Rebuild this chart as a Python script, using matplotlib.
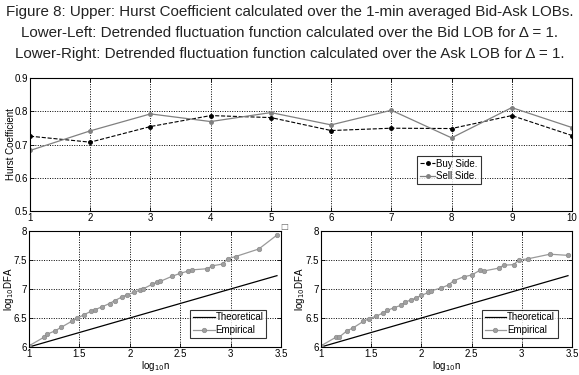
import matplotlib
matplotlib.use("Agg")
import matplotlib.pyplot as plt

plt.rcParams['font.family'] = ['Liberation Sans', 'DejaVu Sans']

# ---- data ----
lags = [1, 2, 3, 4, 5, 6, 7, 8, 9, 10]
buy_side = [0.725, 0.707, 0.754, 0.787, 0.781, 0.742, 0.749, 0.748, 0.787, 0.727]
sell_side = [0.682, 0.741, 0.792, 0.769, 0.796, 0.759, 0.803, 0.720, 0.811, 0.751]

theo_x = [1.0, 3.46]
theo_y = [6.0, 7.23]

bid_x = [1.00, 1.15, 1.18, 1.26, 1.32, 1.43, 1.48, 1.55, 1.62, 1.65, 1.72, 1.80,
         1.85, 1.92, 1.97, 2.04, 2.10, 2.13, 2.22, 2.27, 2.30, 2.42, 2.50, 2.58,
         2.62, 2.77, 2.82, 2.92, 2.97, 3.05, 3.28, 3.46]
bid_y = [6.02, 6.17, 6.22, 6.28, 6.34, 6.45, 6.50, 6.56, 6.62, 6.64, 6.69, 6.75,
         6.80, 6.86, 6.90, 6.94, 6.98, 7.00, 7.08, 7.12, 7.13, 7.22, 7.27, 7.31,
         7.33, 7.35, 7.40, 7.43, 7.52, 7.56, 7.69, 7.93]

ask_x = [1.00, 1.15, 1.18, 1.26, 1.32, 1.42, 1.48, 1.55, 1.62, 1.66, 1.73, 1.80,
         1.84, 1.90, 1.95, 2.00, 2.07, 2.10, 2.20, 2.27, 2.32, 2.42, 2.50, 2.58,
         2.62, 2.77, 2.82, 2.92, 2.97, 3.06, 3.28, 3.46]
ask_y = [6.02, 6.17, 6.17, 6.28, 6.33, 6.44, 6.49, 6.53, 6.59, 6.63, 6.68, 6.72,
         6.78, 6.81, 6.85, 6.89, 6.94, 6.97, 7.02, 7.07, 7.14, 7.21, 7.24, 7.32,
         7.31, 7.36, 7.41, 7.42, 7.50, 7.52, 7.60, 7.58]

title_lines = [
    "Figure 8: Upper: Hurst Coefficient calculated over the 1-min averaged Bid-Ask LOBs.",
    "Lower-Left: Detrended fluctuation function calculated over the Bid LOB for \u0394 = 1.",
    "Lower-Right: Detrended fluctuation function calculated over the Ask LOB for \u0394 = 1.",
]

W, H = 579, 375
fig = plt.figure(figsize=(W / 100, H / 100), dpi=100)


def px_axes(l, r, t, b):
    return fig.add_axes([l / W, 1 - b / H, (r - l) / W, (b - t) / H])


def style(ax):
    ax.grid(True, color='black', linestyle=(0, (1, 1.5)), linewidth=0.7)
    ax.tick_params(direction='in', labelsize=7, length=3, width=0.6, pad=1.5,
                   top=True, right=True)
    for s in ax.spines.values():
        s.set_linewidth(0.8)


# title
for i, line in enumerate(title_lines):
    fig.text(0.5, 1 - (12 + 21 * i) / H, line, ha='center', va='center',
             fontsize=10.9, color='#222222')

# upper
ax1 = px_axes(30, 572, 78, 211)
ax1.plot(lags, buy_side, color='black', linestyle='--', linewidth=0.8,
         marker='o', markersize=2.5, label='Buy Side.')
ax1.plot(lags, sell_side, color='#808080', linestyle='-', linewidth=0.9,
         marker='o', markersize=2.5, label='Sell Side.')
ax1.set_xlim(1, 10)
ax1.set_ylim(0.5, 0.9)
ax1.set_xticks(lags)
ax1.set_yticks([0.5, 0.6, 0.7, 0.8, 0.9])
ax1.set_ylabel('Hurst Coefficient', fontsize=7)
ax1.yaxis.set_label_coords((16 - 30) / 542, 0.5)
style(ax1)
leg = ax1.legend(loc='lower left', bbox_to_anchor=(0.714, 0.2), fontsize=7,
                 frameon=True, fancybox=False, edgecolor='black',
                 handlelength=1.6, handletextpad=0.1, borderpad=0.3,
                 labelspacing=0.3, borderaxespad=0)
leg.get_frame().set_linewidth(0.8)

fig.text(284 / W, 1 - 227 / H, '\u25a1', fontsize=6, color='#666666',
         ha='center', va='center', family=['DejaVu Sans'])


def lower(l, r, ex, ey, ylab_px):
    ax = px_axes(l, r, 231, 347)
    ax.plot(theo_x, theo_y, color='black', linewidth=0.9, label='Theoretical')
    ax.plot(ex, ey, color='#999999', linewidth=0.9, marker='o', markersize=3.2,
            markerfacecolor='#a0a0a0', markeredgecolor='#8a8a8a',
            markeredgewidth=0.5, label='Empirical')
    ax.set_xlim(1, 3.5)
    ax.set_ylim(6, 8)
    ax.set_xticks([1, 1.5, 2, 2.5, 3, 3.5])
    ax.set_xticklabels(['1', '1.5', '2', '2.5', '3', '3.5'])
    ax.set_yticks([6, 6.5, 7, 7.5, 8])
    ax.set_yticklabels(['6', '6.5', '7', '7.5', '8'])
    ax.set_xlabel('log$_{10}$n', fontsize=7, labelpad=0)
    ax.set_ylabel('log$_{10}$DFA', fontsize=7)
    ax.yaxis.set_label_coords((ylab_px - l) / (r - l), 0.5)
    style(ax)
    lg = ax.legend(loc='lower left', bbox_to_anchor=(0.64, 0.075), fontsize=7,
                   frameon=True, fancybox=False, edgecolor='black',
                   handlelength=2.2, handletextpad=0.1, borderpad=0.3,
                   labelspacing=0.3, borderaxespad=0)
    lg.get_frame().set_linewidth(0.8)
    return ax


lower(29, 281, bid_x, bid_y, 16)
lower(321, 572, ask_x, ask_y, 307)

fig.savefig('out.png', dpi=100)
